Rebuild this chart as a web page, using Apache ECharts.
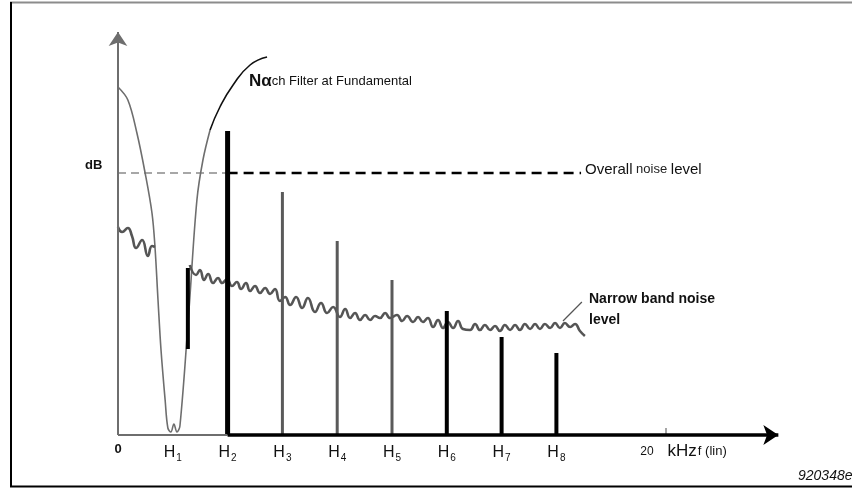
<!DOCTYPE html>
<html>
<head>
<meta charset="utf-8">
<script src="https://cdn.jsdelivr.net/npm/echarts@6/dist/echarts.min.js"></script>
<style>
  html, body { margin: 0; padding: 0; background: #fff; }
  #chart { width: 852px; height: 488px; }
</style>
</head>
<body>
<div id="chart"></div>
<script>
// frequency in kHz, level in arbitrary dB units (0 = floor)
const harmonicNo = [1, 2, 3, 4, 5, 6, 7, 8]
const harmonicFreq = [2, 4, 6, 8, 10, 12, 14, 16]
const tickFreq = [0, 2, 4, 6, 8, 10, 12, 14, 16, 20]

// remaining harmonic lines (H2..H8) after the notch
const barFreq = [4, 6, 8, 10, 12, 14, 16]
const barLevel = [76, 60.75, 48.5, 38.75, 31, 24.5, 20.5]
const barHeavy = [true, false, false, false, true, true, true]

// short residual line left of the notch
const residualFreq = 2.55
const residualLow = 21.5
const residualHigh = 41.75

const overallLevel = 65.5
const overallEnd = 16.9

const notchCurve = [
  [0, 87], [0.36, 83.75], [0.69, 75.5], [0.99, 65.5], [1.24, 55.5], [1.35, 47],
  [1.46, 33.75], [1.57, 21.25], [1.72, 8.75], [1.82, 1.75], [1.93, 0.75],
  [2.04, 2.75], [2.15, 0.75], [2.26, 2.25], [2.59, 31.25], [2.88, 58.75],
  [3.10, 68.75], [3.36, 76.25]
]
const notchArc = [[3.36, 76.25], [3.72, 82], [4.20, 87.5], [4.82, 92.5], [5.44, 94.5]]

const noiseLeft = [
  [0, 52], [0.15, 50.75], [0.36, 51.75], [0.51, 49.75], [0.66, 46.75],
  [0.88, 48.75], [1.09, 44.75], [1.24, 47.25], [1.35, 47]
]
const noiseRight = [
  [2.62, 42.5], [2.85, 40], [2.99, 41.25], [3.14, 38.75], [3.29, 40.25], [3.47, 38],
  [3.65, 39.25], [3.80, 38], [3.98, 39], [4.16, 37.25], [4.34, 38.25], [4.49, 36.5],
  [4.67, 38], [4.82, 36], [5.00, 37.25], [5.18, 35.5], [5.37, 36.75], [5.55, 35.25],
  [5.73, 36.5], [5.91, 33.5], [6.10, 34.5], [6.28, 32.5], [6.50, 34.5], [6.72, 31.75],
  [6.93, 34.25], [7.19, 30.75], [7.41, 33], [7.63, 30.5], [7.85, 32], [8.10, 29.5],
  [8.29, 31.5], [8.47, 29.25], [8.65, 30.5], [8.83, 28.75], [9.02, 30], [9.20, 28.75],
  [9.38, 29.75], [9.56, 29.25], [9.75, 30.5], [9.93, 29.25], [10.18, 30], [10.37, 28.5],
  [10.55, 29.75], [10.77, 28.25], [10.95, 29.5], [11.13, 28.25], [11.31, 29.25],
  [11.50, 27], [11.68, 28.75], [11.86, 26.75], [12.04, 28.25], [12.23, 26.75],
  [12.41, 28.5], [12.59, 26.5], [12.85, 26.25], [13.03, 27.75], [13.21, 26.25], [13.39, 27.5],
  [13.58, 26.25], [13.76, 27.25], [13.94, 26], [14.12, 27.5], [14.31, 26.25], [14.49, 27.5],
  [14.67, 26.25], [14.85, 27.75], [15.04, 26.5], [15.22, 27.75], [15.40, 26.5], [15.58, 27.75],
  [15.77, 26.75], [15.95, 28], [16.13, 26.75], [16.31, 28], [16.50, 27],
  [16.68, 27.75], [16.86, 26], [17.04, 24.75]
]
const leaderLine = [[16.24, 28.5], [16.93, 33.25]]

const FONT = '"Liberation Sans", Arial, sans-serif'
const NARROW = '"Liberation Sans Narrow", "Liberation Sans", Arial, sans-serif'
const GREY = '#6e6e6e'

const chart = echarts.init(document.getElementById('chart'))

function tickLabel(value) {
  if (value === 0) return '{z|0}'
  if (value === 20) return '{pad|}{n|20}{k|kHz}{f|f (lin)}'
  const i = harmonicFreq.indexOf(value)
  return '{h|H}{s|' + harmonicNo[i] + '}'
}

const barData = barFreq.map((f, i) => [f, 0, barLevel[i], barHeavy[i] ? 1 : 0])
barData.push([residualFreq, residualLow, residualHigh, 2])

const option = {
  animation: false,
  grid: { left: 118, right: 62.7, top: 32, bottom: 53 },
  xAxis: {
    type: 'value',
    min: 0,
    max: 24.5,
    splitLine: { show: false },
    axisLine: { show: false },
    axisTick: {
      show: true,
      customValues: [20],
      inside: true,
      length: 7,
      lineStyle: { color: '#888', width: 1.5 }
    },
    axisLabel: {
      customValues: tickFreq,
      margin: 8,
      formatter: tickLabel,
      rich: {
        z: { fontFamily: NARROW, fontWeight: 'bold', fontSize: 13, color: '#111' },
        h: { fontFamily: FONT, fontSize: 16, color: '#111' },
        s: { fontFamily: FONT, fontSize: 10, color: '#111', padding: [10, 0, 0, 1] },
        pad: { width: 35 },
        n: { fontFamily: NARROW, fontSize: 12, color: '#111', padding: [0, 14, 0, 0] },
        k: { fontFamily: FONT, fontSize: 17, color: '#111', padding: [0, 1, 0, 0] },
        f: { fontFamily: NARROW, fontSize: 13, color: '#111' }
      }
    }
  },
  yAxis: { type: 'value', min: 0, max: 100.75, show: false },
  series: [
    {
      type: 'line',
      data: notchCurve,
      smooth: 0.35,
      symbol: 'none',
      lineStyle: { color: GREY, width: 1.6 },
      z: 3,
      markLine: {
        silent: true,
        animation: false,
        label: { show: false },
        symbol: ['none', 'none'],
        data: [
          [
            { coord: [0, 0], symbol: 'none', lineStyle: { color: GREY, width: 2, type: 'solid' } },
            { coord: [0, 100.75], symbol: 'arrow', symbolSize: 14 }
          ],
          [
            { coord: [0, 0], symbol: 'none', lineStyle: { color: GREY, width: 2, type: 'solid' } },
            { coord: [4, 0], symbol: 'none' }
          ],
          [
            { coord: [4, 0], symbol: 'none', lineStyle: { color: '#000', width: 3.5, type: 'solid' } },
            { coord: [24.1, 0], symbol: 'arrow', symbolSize: 15 }
          ]
        ]
      }
    },
    {
      type: 'line',
      data: notchArc,
      smooth: 0.5,
      symbol: 'none',
      lineStyle: { color: '#111', width: 1.6 },
      z: 3
    },
    {
      type: 'line',
      data: noiseLeft,
      smooth: 0.5,
      symbol: 'none',
      lineStyle: { color: '#555', width: 2.6 },
      z: 3
    },
    {
      type: 'line',
      data: noiseRight,
      smooth: 0.5,
      symbol: 'none',
      lineStyle: { color: '#555', width: 2.6 },
      z: 3
    },
    {
      type: 'line',
      data: [[0, overallLevel], [4, overallLevel]],
      symbol: 'none',
      lineStyle: { color: '#8a8a8a', width: 1.6, type: [8, 5] },
      z: 2
    },
    {
      type: 'line',
      data: [[4, overallLevel], [overallEnd, overallLevel]],
      symbol: 'none',
      lineStyle: { color: '#000', width: 2.6, type: [10, 6] },
      z: 2
    },
    {
      type: 'line',
      data: leaderLine,
      symbol: 'none',
      lineStyle: { color: '#555', width: 1.2 },
      z: 3
    },
    {
      type: 'custom',
      data: barData,
      encode: { x: 0, y: [1, 2] },
      z: 4,
      renderItem(params, api) {
        const lo = api.coord([api.value(0), api.value(1)])
        const hi = api.coord([api.value(0), api.value(2)])
        const kind = api.value(3)
        return {
          type: 'line',
          shape: { x1: lo[0], y1: lo[1], x2: hi[0], y2: hi[1] },
          style: {
            stroke: kind === 0 ? '#5a5a5a' : '#000',
            lineWidth: kind === 0 ? 3 : (barFreq[params.dataIndex] === 4 ? 5 : 4),
            lineCap: 'butt'
          }
        }
      }
    }
  ],
  graphic: [
    // frame
    { type: 'line', shape: { x1: 10, y1: 2.5, x2: 852, y2: 2.5 }, style: { stroke: '#8c8c8c', lineWidth: 2 } },
    { type: 'line', shape: { x1: 11, y1: 2, x2: 11, y2: 487 }, style: { stroke: '#000', lineWidth: 2 } },
    { type: 'line', shape: { x1: 10, y1: 486.5, x2: 852, y2: 486.5 }, style: { stroke: '#000', lineWidth: 2 } },
    {
      type: 'text', left: 85, top: 159,
      style: { text: 'dB', font: 'bold 13px ' + FONT, fill: '#111' }
    },
    {
      type: 'text', left: 249, top: 73,
      style: {
        text: '{n|Nα}{t|ch Filter at Fundamental}',
        rich: {
          n: { fontFamily: FONT, fontSize: 17, fontWeight: 'bold', fill: '#111' },
          t: { fontFamily: FONT, fontSize: 13, fill: '#111' }
        }
      }
    },
    {
      type: 'text', left: 585, top: 162,
      style: {
        text: '{o|Overall}{s| noise }{o|level}',
        rich: {
          o: { fontFamily: FONT, fontSize: 15, fill: '#111' },
          s: { fontFamily: FONT, fontSize: 13, fill: '#222' }
        }
      }
    },
    {
      type: 'text', left: 589, top: 289,
      style: {
        text: 'Narrow band noise\nlevel',
        font: 'bold 14px ' + NARROW,
        lineHeight: 21,
        fill: '#111'
      }
    },
    {
      type: 'text', left: 798, top: 469,
      style: { text: '920348e', font: 'italic 14px ' + FONT, fill: '#111' }
    }
  ]
}

chart.setOption(option)
</script>
</body>
</html>
